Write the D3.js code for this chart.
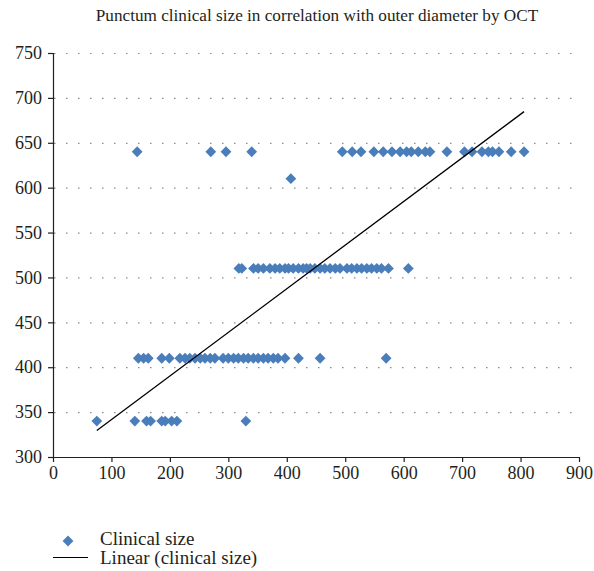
<!DOCTYPE html>
<html>
<head>
<meta charset="utf-8">
<script src="https://cdn.jsdelivr.net/npm/d3@7"></script>
<style>
  body { margin: 0; background: #fff; }
  text { font-family: "Liberation Serif", "DejaVu Serif", serif; fill: #231f20; }
</style>
</head>
<body>
<div id="chart"></div>
<script>
// outer diameter by OCT (x), grouped by clinical size (y)
var size640 = [144, 270, 296, 340, 495, 512, 527, 549, 565, 580, 594, 605, 613, 625, 637, 645, 674, 704, 717, 734, 745, 752, 763, 784, 806];
var size610 = [407];
var size510 = [318, 323, 343, 351, 360, 371, 380, 388, 397, 403, 411, 420, 428, 434, 440, 448, 457, 465, 474, 483, 491, 503, 511, 520, 528, 537, 545, 554, 562, 574, 608];
var size410 = [146, 155, 163, 186, 199, 217, 226, 234, 243, 252, 260, 269, 277, 291, 300, 309, 317, 326, 334, 343, 351, 360, 368, 377, 385, 397, 420, 457, 570];
var size340 = [75, 140, 160, 167, 186, 192, 203, 212, 330];

var trendSlope = 0.486;
var trendIntercept = 293;

var xTicks = [0, 100, 200, 300, 400, 500, 600, 700, 800, 900];
var yTicks = [300, 350, 400, 450, 500, 550, 600, 650, 700, 750];

var title = "Punctum clinical size in correlation with outer diameter by OCT";

// flatten into points
var points = [];
[[640, size640], [610, size610], [510, size510], [410, size410], [340, size340]].forEach(function(g) {
    g[1].forEach(function(x) { points.push({x: x, y: g[0]}); });
});

var width = 594, height = 571,
    plotLeft = 53, plotRight = 579, plotTop = 53, plotBottom = 457;

var svg = d3.select("#chart").append("svg")
    .attr("width", width)
    .attr("height", height);

var xScale = d3.scaleLinear().domain([0, 900]).range([plotLeft, plotRight]);
var yScale = d3.scaleLinear().domain([300, 750]).range([plotBottom, plotTop]);

// dotted gridlines
svg.append("g")
    .selectAll("line")
    .data(yTicks.slice(1))
    .enter().append("line")
        .attr("x1", plotLeft + 1)
        .attr("x2", plotRight - 6)
        .attr("y1", function(d) { return yScale(d) + 0.5; })
        .attr("y2", function(d) { return yScale(d) + 0.5; })
        .attr("stroke", "#8a8a8a")
        .attr("stroke-width", 1.2)
        .attr("stroke-dasharray", "1.5,10.5");

// axes
var xAxis = d3.axisBottom(xScale).tickValues(xTicks).tickSize(5).tickPadding(4);
var yAxis = d3.axisLeft(yScale).tickValues(yTicks).tickSize(5).tickPadding(6);

var gx = svg.append("g")
    .attr("transform", "translate(0," + plotBottom + ")")
    .call(xAxis);
var gy = svg.append("g")
    .attr("transform", "translate(" + plotLeft + ",0)")
    .call(yAxis);

[gx, gy].forEach(function(g) {
    g.select(".domain").attr("stroke", "#231f20").attr("stroke-width", 1.2);
    g.selectAll(".tick line").attr("stroke", "#231f20").attr("stroke-width", 1.2);
    g.selectAll(".tick text")
        .attr("font-size", 18)
        .attr("fill", "#231f20");
});
gx.select(".domain").attr("d", "M" + plotLeft + ",0.5H" + plotRight);
gy.select(".domain").attr("d", "M0.5," + plotTop + "V" + plotBottom);

// trendline spans the range of the data
var xExt = d3.extent(points, function(d) { return d.x; });
var trend = xExt.map(function(x) { return {x: x, y: trendIntercept + trendSlope * x}; });

var valueline = d3.line()
    .x(function(d) { return xScale(d.x); })
    .y(function(d) { return yScale(d.y); });

// markers
var diamond = d3.symbol().type(d3.symbolDiamond2).size(74);

svg.append("g")
    .selectAll("path")
    .data(points)
    .enter().append("path")
        .attr("d", diamond)
        .attr("transform", function(d) { return "translate(" + xScale(d.x) + "," + yScale(d.y) + ")"; })
        .attr("fill", "#4a7ebb");

svg.append("path")
    .attr("d", valueline(trend))
    .attr("fill", "none")
    .attr("stroke", "#000")
    .attr("stroke-width", 1.3);

// title
svg.append("text")
    .attr("x", 317)
    .attr("y", 21)
    .attr("text-anchor", "middle")
    .attr("font-size", 17.2)
    .text(title);

// legend
var legend = svg.append("g");
legend.append("path")
    .attr("d", diamond)
    .attr("transform", "translate(68,541)")
    .attr("fill", "#4a7ebb");
legend.append("text")
    .attr("x", 100)
    .attr("y", 545)
    .attr("font-size", 19)
    .text("Clinical size");
legend.append("line")
    .attr("x1", 53).attr("x2", 88)
    .attr("y1", 557.5).attr("y2", 557.5)
    .attr("stroke", "#000")
    .attr("stroke-width", 1.2);
legend.append("text")
    .attr("x", 100)
    .attr("y", 564)
    .attr("font-size", 19)
    .text("Linear (clinical size)");
</script>
</body>
</html>
